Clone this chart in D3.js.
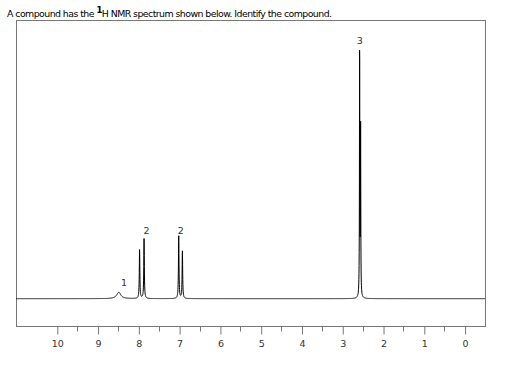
<!DOCTYPE html>
<html><head><meta charset="utf-8">
<script src="https://cdn.jsdelivr.net/npm/d3@7"></script>
<style>body{margin:0;background:#fff}svg{display:block}</style>
</head><body>
<script>
// Peak list: chemical shift (ppm), height (arb. units), half-width (ppm)
const peakShifts  = [8.48, 7.97, 7.86, 7.01, 6.92, 2.574, 2.550];
const peakHeights = [2.3, 17.5, 21.5, 22.5, 17.0, 90.5, 60];
const peakWidths  = [0.06, 0.008, 0.008, 0.008, 0.008, 0.005, 0.005];
// Integration labels
const labelShifts = [8.35, 7.80, 6.96, 2.57];
const labelText   = ["1", "2", "2", "3"];
const labelHeights= [4.6, 23.4, 23.4, 91.5];
const tickValues  = [10, 9, 8, 7, 6, 5, 4, 3, 2, 1, 0];
const minorTicks  = [9.5, 8.5, 7.5, 6.5, 5.5, 4.5, 3.5, 2.5, 1.5, 0.5];

const W = 510, H = 368;
const frame = {l: 16.5, r: 485.5, t: 20.5, b: 326.5};
const svg = d3.select("body").append("svg").attr("width", W).attr("height", H);

svg.append("text").attr("x", 7).attr("y", 16.5)
  .style("font-family", "'DejaVu Sans', sans-serif").style("font-size", "9.4px")
  .style("letter-spacing", "-0.55px").attr("fill", "#000")
  .html('A compound has the <tspan dy="-4" font-size="8.5px" font-weight="bold">1</tspan><tspan dy="4">H NMR spectrum shown below. Identify the compound.</tspan>');

const x = d3.scaleLinear().domain([11, -0.5]).range([frame.l - 0.5, frame.r - 0.5]);
const y = d3.scaleLinear().domain([-10, 100]).range([frame.b, frame.t]);

svg.append("rect").attr("x", frame.l).attr("y", frame.t)
  .attr("width", frame.r - frame.l).attr("height", frame.b - frame.t)
  .attr("fill", "none").attr("stroke", "#777").attr("stroke-width", 1);

// spectrum from Lorentzian peak list
const pts = [];
for (let p = 11; p >= -0.5; p -= 0.0025) {
  let v = 0;
  for (let i = 0; i < peakShifts.length; i++) {
    const d = (p - peakShifts[i]) / peakWidths[i];
    v += peakHeights[i] / (1 + d * d);
  }
  pts.push([p, v]);
}
svg.append("path").datum(pts)
  .attr("d", d3.line().x(d => x(d[0])).y(d => y(d[1])))
  .attr("fill", "none").attr("stroke", "#000").attr("stroke-width", 1);

// axis
const axis = svg.append("g").attr("transform", `translate(0.5,${frame.b})`);
axis.call(d3.axisBottom(x).tickValues(tickValues).tickSize(8).tickPadding(6).tickFormat(d3.format("d")));
axis.select(".domain").remove();
axis.selectAll(".tick line").attr("stroke", "#777");
axis.selectAll(".tick text").attr("fill", "#333")
  .style("font-family", "'DejaVu Sans', sans-serif").style("font-size", "9.5px");
axis.selectAll(".minor").data(minorTicks).enter().append("line")
  .attr("x1", d => Math.round(x(d))).attr("x2", d => Math.round(x(d)))
  .attr("y1", 0).attr("y2", 5).attr("stroke", "#777");

svg.selectAll(".plabel").data(labelText).enter().append("text")
  .attr("x", (d, i) => x(labelShifts[i])).attr("y", (d, i) => y(labelHeights[i]))
  .attr("text-anchor", "middle").attr("fill", "#333")
  .style("font-family", "'DejaVu Sans', sans-serif").style("font-size", "9.5px")
  .text(d => d);
</script>
</body></html>
